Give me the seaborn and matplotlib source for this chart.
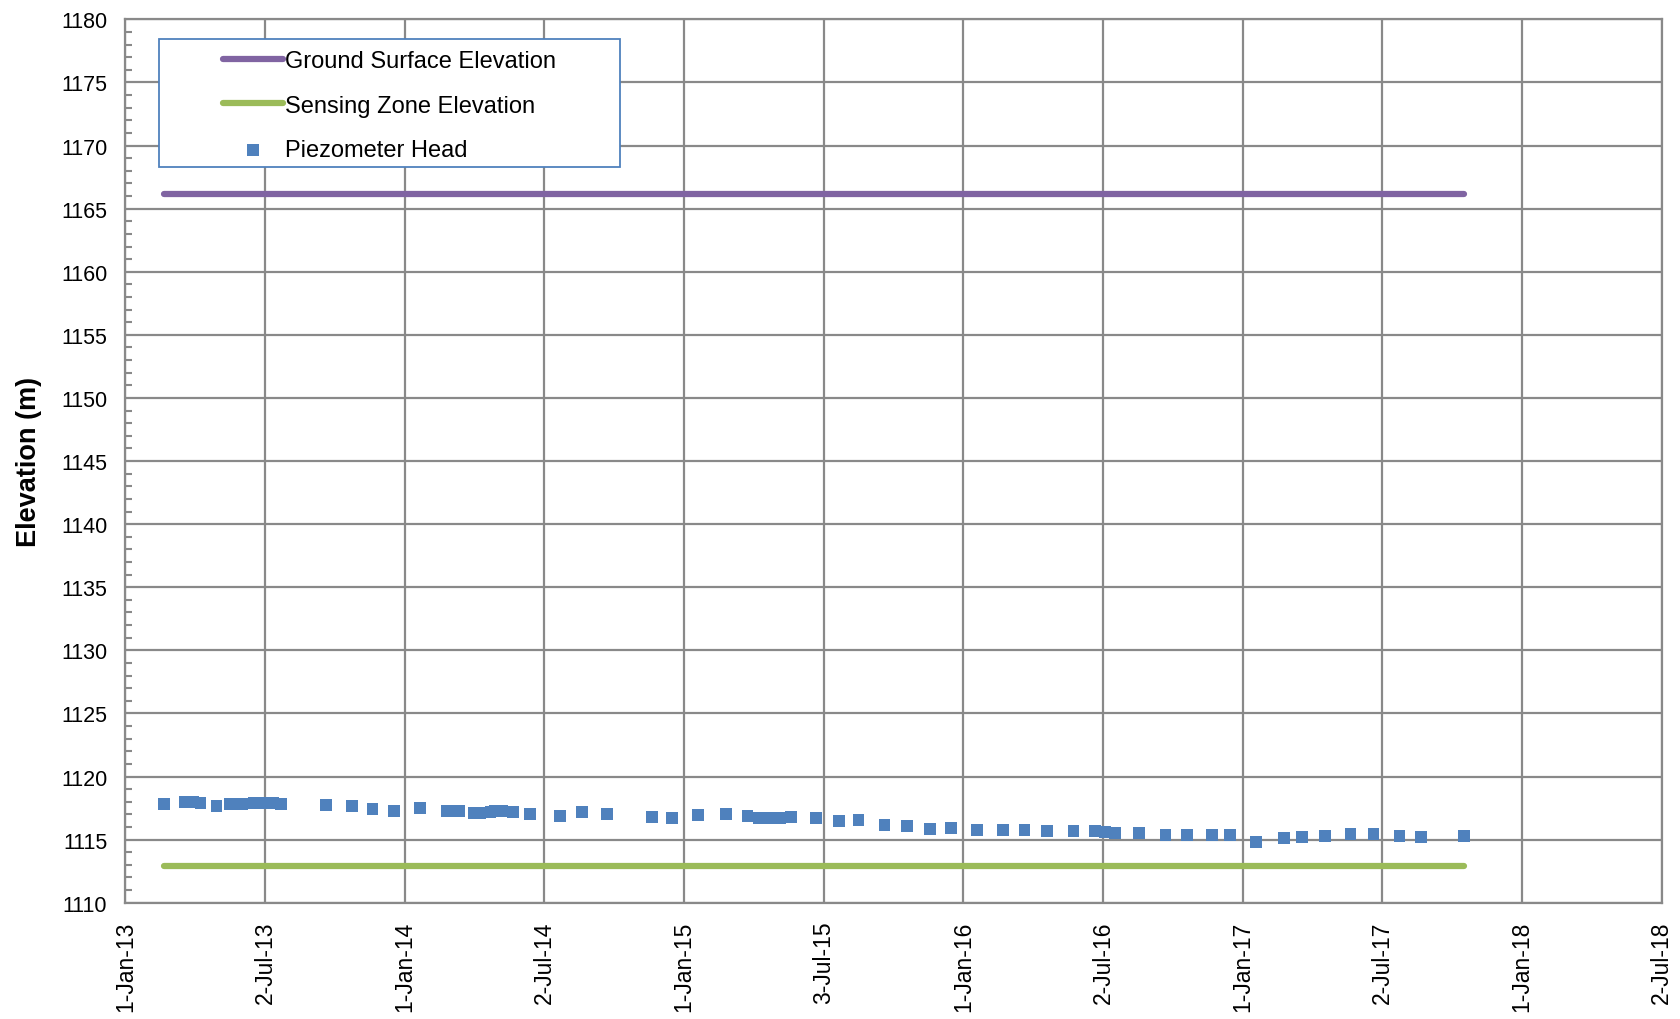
import pandas as pd
import seaborn as sns
import matplotlib.pyplot as plt
from matplotlib.patches import Rectangle
from matplotlib.ticker import MultipleLocator

# Piezometer readings
reading_dates = [
    "2013-02-20", "2013-03-20", "2013-03-31", "2013-04-09", "2013-04-30", "2013-05-17",
    "2013-05-26", "2013-06-03", "2013-06-18", "2013-06-30", "2013-07-13", "2013-07-23",
    "2013-09-20", "2013-10-24", "2013-11-20", "2013-12-18", "2014-01-21", "2014-02-25",
    "2014-03-13", "2014-04-01", "2014-04-09", "2014-04-23", "2014-04-29", "2014-05-08",
    "2014-05-23", "2014-06-14", "2014-07-23", "2014-08-21", "2014-09-22", "2014-11-20",
    "2014-12-16", "2015-01-19", "2015-02-25", "2015-03-25", "2015-04-09", "2015-04-23",
    "2015-05-07", "2015-05-21", "2015-06-22", "2015-07-22", "2015-08-17", "2015-09-20",
    "2015-10-19", "2015-11-18", "2015-12-16", "2016-01-19", "2016-02-22", "2016-03-21",
    "2016-04-19", "2016-05-24", "2016-06-21", "2016-07-04", "2016-07-17", "2016-08-18",
    "2016-09-21", "2016-10-19", "2016-11-21", "2016-12-14", "2017-01-17", "2017-02-23",
    "2017-03-19", "2017-04-18", "2017-05-21", "2017-06-20", "2017-07-24", "2017-08-21",
    "2017-10-16",
]
piezometer_head = [
    1117.82, 1118.00, 1118.00, 1117.90, 1117.64, 1117.82,
    1117.82, 1117.82, 1117.90, 1117.90, 1117.90, 1117.85,
    1117.77, 1117.69, 1117.42, 1117.27, 1117.50, 1117.27,
    1117.27, 1117.10, 1117.10, 1117.16, 1117.29, 1117.29,
    1117.16, 1117.03, 1116.90, 1117.21, 1117.05, 1116.79,
    1116.71, 1116.95, 1117.05, 1116.90, 1116.74, 1116.74,
    1116.74, 1116.82, 1116.71, 1116.47, 1116.58, 1116.16,
    1116.08, 1115.84, 1115.92, 1115.78, 1115.78, 1115.78,
    1115.71, 1115.71, 1115.71, 1115.63, 1115.55, 1115.55,
    1115.39, 1115.39, 1115.39, 1115.39, 1114.83, 1115.15,
    1115.23, 1115.31, 1115.47, 1115.47, 1115.31, 1115.23,
    1115.31,
]

ground_surface = 1166.15
sensing_zone = 1112.93

x_tick_labels = ["1-Jan-13", "2-Jul-13", "1-Jan-14", "2-Jul-14", "1-Jan-15", "3-Jul-15",
                 "1-Jan-16", "2-Jul-16", "1-Jan-17", "2-Jul-17", "1-Jan-18", "2-Jul-18"]

PURPLE = "#8064A2"
GREEN = "#9BBB59"
BLUE = "#4F81BD"
GRID = "#898989"

sns.set_style("white")
plt.rcParams["font.family"] = ["Liberation Sans", "DejaVu Sans"]
plt.rcParams["text.color"] = "black"
plt.rcParams["axes.labelcolor"] = "black"

points = pd.DataFrame({"date": pd.to_datetime(reading_dates), "head": piezometer_head})
span = [points["date"].min(), points["date"].max()]
lines = pd.DataFrame({
    "date": span * 2,
    "elev": [ground_surface] * 2 + [sensing_zone] * 2,
    "series": ["Ground Surface Elevation"] * 2 + ["Sensing Zone Elevation"] * 2,
})

fig, ax = plt.subplots(figsize=(16.81, 10.2), dpi=100)
fig.subplots_adjust(left=0.0746, right=0.9885, top=0.98, bottom=0.114)

sns.lineplot(data=lines, x="date", y="elev", hue="series",
             palette=[PURPLE, GREEN], linewidth=4.5, ax=ax,
             solid_capstyle="round", zorder=3)
sns.scatterplot(data=points, x="date", y="head", marker="s", s=72,
                color=BLUE, edgecolor="none", linewidth=0,
                label="Piezometer Head", ax=ax, zorder=4)

# x axis: Excel style, major unit 182.5 days
start = pd.Timestamp("2013-01-01")
tick_pos = [start + pd.Timedelta(days=182.5 * k) for k in range(len(x_tick_labels))]
ax.set_xlim(tick_pos[0], tick_pos[-1])
ax.set_xticks(tick_pos)
ax.set_xticklabels(x_tick_labels, rotation=90, fontsize=16.5)

ax.set_ylim(1110, 1180)
ax.yaxis.set_major_locator(MultipleLocator(5))
ax.yaxis.set_minor_locator(MultipleLocator(1))
ax.tick_params(axis="y", which="major", direction="inout", length=10, width=1.5,
               color=GRID, labelsize=15.5, pad=8, labelcolor="black")
ax.tick_params(axis="y", which="minor", direction="in", length=5, width=1.5,
               color=GRID, left=True)
ax.tick_params(axis="x", which="major", direction="inout", length=10, width=1.5,
               color=GRID, pad=8, labelcolor="black")

ax.grid(True, which="major", color=GRID, linewidth=1.6)
ax.set_axisbelow(True)
for sp in ax.spines.values():
    sp.set_color(GRID)
    sp.set_linewidth(1.6)

ax.set_xlabel("")
ax.set_ylabel("Elevation (m)", fontsize=19.5, fontweight="bold", labelpad=14)

# legend: box drawn separately for the wide Excel-like padding
ax.add_patch(Rectangle((0.0217, 0.8326), 0.300, 0.1455, transform=ax.transAxes,
                       facecolor="white", edgecolor=BLUE, linewidth=1.3,
                       zorder=6, clip_on=False))
leg = ax.legend(loc="upper left", bbox_to_anchor=(0.0635, 0.965), frameon=False,
                fontsize=17, handlelength=2.55, handletextpad=0.08,
                labelspacing=0.95, borderpad=0, borderaxespad=0)
leg.set_zorder(7)
for t in leg.get_texts():
    t.set_color("black")

fig.savefig("out.png", dpi=100)
